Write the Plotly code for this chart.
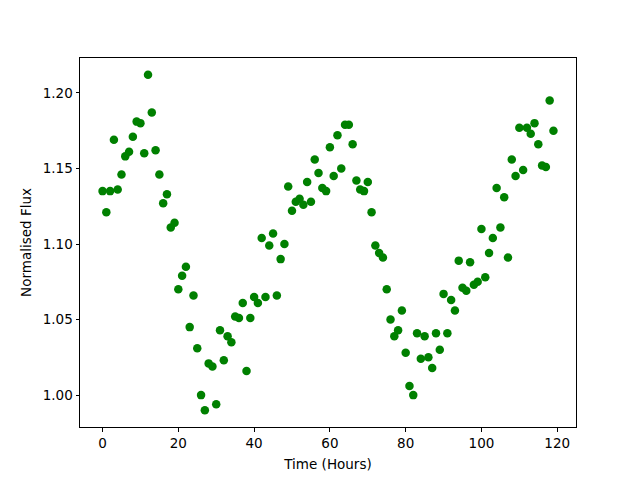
import plotly.graph_objects as go

hours = list(range(120))
flux = [
    1.135, 1.121, 1.135, 1.169, 1.136, 1.146, 1.158, 1.161, 1.171, 1.181,
    1.180, 1.160, 1.212, 1.187, 1.162, 1.146, 1.127, 1.133, 1.111, 1.114,
    1.070, 1.079, 1.085, 1.045, 1.066, 1.031, 1.000, 0.990, 1.021, 1.019,
    0.994, 1.043, 1.023, 1.039, 1.035, 1.052, 1.051, 1.061, 1.016, 1.051,
    1.065, 1.061, 1.104, 1.065, 1.099, 1.107, 1.066, 1.090, 1.100, 1.138,
    1.122, 1.128, 1.130, 1.126, 1.141, 1.128, 1.156, 1.147, 1.137, 1.135,
    1.164, 1.145, 1.172, 1.150, 1.179, 1.179, 1.166, 1.142, 1.136, 1.135,
    1.141, 1.121, 1.099, 1.094, 1.091, 1.070, 1.050, 1.039, 1.043, 1.056,
    1.028, 1.006, 1.000, 1.041, 1.024, 1.039, 1.025, 1.018, 1.041, 1.030,
    1.067, 1.041, 1.063, 1.056, 1.089, 1.071, 1.069, 1.088, 1.073, 1.075,
    1.110, 1.078, 1.094, 1.104, 1.137, 1.111, 1.131, 1.091, 1.156, 1.145,
    1.177, 1.149, 1.177, 1.173, 1.180, 1.166, 1.152, 1.151, 1.195, 1.175,
]
x_ticks = [0, 20, 40, 60, 80, 100, 120]
y_ticks = [1.00, 1.05, 1.10, 1.15, 1.20]

def padded(vals, frac=0.05):
    lo, hi = min(vals), max(vals)
    d = (hi - lo) * frac
    return [lo - d, hi + d]

fig = go.Figure(go.Scatter(
    x=hours, y=flux, mode="markers",
    marker=dict(color="#008000", size=8.5, line=dict(width=0)),
))

font = dict(family="DejaVu Sans", size=13.5, color="black")
axis_common = dict(
    showgrid=False, zeroline=False, showline=True, linecolor="black",
    linewidth=1, mirror=True, ticks="outside", ticklen=3.5, tickwidth=1,
    tickcolor="black", tickfont=font,
)
# page body has an 8px margin; shrink the figure so the axes land where the
# reference's do
fig.update_layout(
    width=632, height=472,
    margin=dict(l=72, r=64, t=50, b=53),
    paper_bgcolor="white", plot_bgcolor="white",
    showlegend=False, font=font,
)
fig.update_xaxes(range=padded(hours), tickvals=x_ticks,
                 title=dict(text="Time (Hours)", font=font, standoff=9),
                 **axis_common)
fig.update_yaxes(range=padded(flux), tickvals=y_ticks, tickformat=".2f",
                 title=dict(text="Normalised Flux", font=font, standoff=8),
                 **axis_common)

fig.write_html("out.html")
